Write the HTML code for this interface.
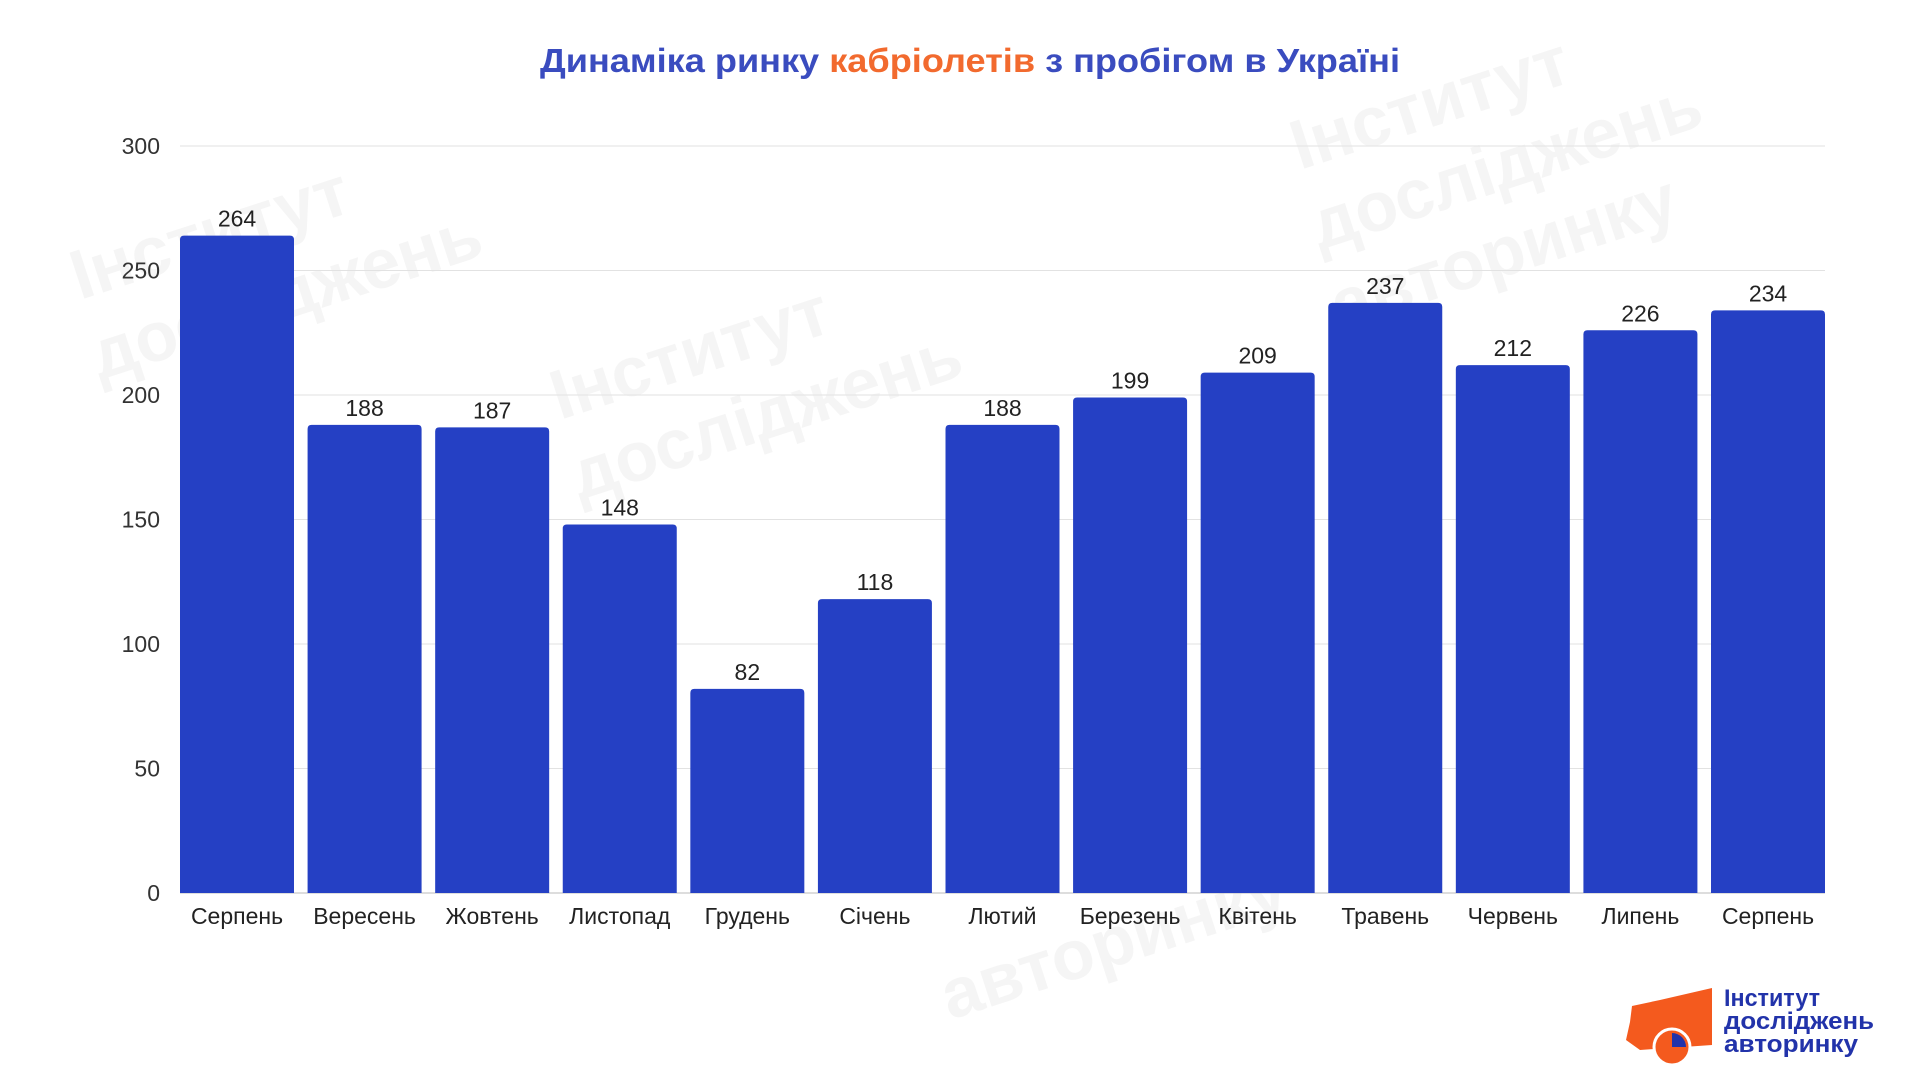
<!DOCTYPE html>
<html><head><meta charset="utf-8">
<style>
html,body{margin:0;padding:0;background:#fff;width:1920px;height:1080px;overflow:hidden}
svg{display:block;font-family:"Liberation Sans","Noto Sans CJK SC",sans-serif}
</style></head>
<body>
<svg id="chart" width="1920" height="1080" viewBox="0 0 1920 1080">
  <g fill="#f5f5f5" font-weight="bold" font-size="70">
    <text x="80" y="300" transform="rotate(-18 80 300)">Інститут</text>
    <text x="100" y="380" transform="rotate(-18 100 380)">досліджень</text>
    <text x="560" y="420" transform="rotate(-18 560 420)">Інститут</text>
    <text x="580" y="500" transform="rotate(-18 580 500)">досліджень</text>
    <text x="1300" y="170" transform="rotate(-18 1300 170)">Інститут</text>
    <text x="1320" y="250" transform="rotate(-18 1320 250)">досліджень</text>
    <text x="1340" y="330" transform="rotate(-18 1340 330)">авторинку</text>
    <text x="950" y="1020" transform="rotate(-18 950 1020)">авторинку</text>
  </g>
  <text x="540" y="72" font-size="33" font-weight="bold" textLength="860" lengthAdjust="spacingAndGlyphs"><tspan fill="#3a4cbf">Динаміка ринку </tspan><tspan fill="#f26a2e">кабріолетів</tspan><tspan fill="#3a4cbf"> з пробігом в Україні</tspan></text>
  <g id="grid"></g>
  <g id="bars"></g>
  <g>
    <path d="M1630 1022 L1632 1006 L1660 1000 L1712 988 L1712 1045 L1640 1050 L1626 1040 Z" fill="#f45a1e"/>
    <circle cx="1672" cy="1047" r="18" fill="#f45a1e" stroke="#fff" stroke-width="3"/>
    <path d="M1672 1047 L1672 1033 A14 14 0 0 1 1686 1047 Z" fill="#2233aa"/>
    <text x="1724" y="1006" font-size="24" font-weight="bold" fill="#2233aa" textLength="96" lengthAdjust="spacingAndGlyphs">Інститут</text>
    <text x="1724" y="1029" font-size="24" font-weight="bold" fill="#2233aa" textLength="150" lengthAdjust="spacingAndGlyphs">досліджень</text>
    <text x="1724" y="1052" font-size="24" font-weight="bold" fill="#2233aa" textLength="134" lengthAdjust="spacingAndGlyphs">авторинку</text>
  </g>
</svg>
<script>
const categories = ["Серпень","Вересень","Жовтень","Листопад","Грудень","Січень","Лютий","Березень","Квітень","Травень","Червень","Липень","Серпень"];
const values = [264,188,187,148,82,118,188,199,209,237,212,226,234];
const yTicks = [0,50,100,150,200,250,300];

const NS = "http://www.w3.org/2000/svg";
const X0 = 180, X1 = 1825, Y0 = 893, Y300 = 146;
const barW = 114;
const step = (X1 - X0 - barW) / (categories.length - 1);
function yScale(v){ return Y0 - (v / 300) * (Y0 - Y300); }
function xBand(i){ return X0 + i * step; }
function mk(tag, attrs, parent){
  const e = document.createElementNS(NS, tag);
  for (const k in attrs) e.setAttribute(k, attrs[k]);
  parent.appendChild(e);
  return e;
}
const grid = document.getElementById('grid');
const bars = document.getElementById('bars');
yTicks.forEach(t => {
  const y = yScale(t);
  const l = mk('line', {x1: X0, x2: X1, y1: y, y2: y, stroke: t === 0 ? '#bbbbbb' : '#e2e2e2', 'stroke-width': 1}, grid);
  
  
  const tx = mk('text', {x: 160, y: y + 8, 'text-anchor': 'end', 'font-size': 23, fill: '#333'}, grid);
  tx.textContent = t;
  
  
});
values.forEach((v, i) => {
  const x = xBand(i), y = yScale(v);
  const r = mk('path', {d: `M${x} ${Y0} V${y + 4} Q${x} ${y} ${x + 4} ${y} H${x + barW - 4} Q${x + barW} ${y} ${x + barW} ${y + 4} V${Y0} Z`, fill: '#2540c4'}, bars);
  
  
  const lbl = mk('text', {x: x + barW / 2, y: y - 9, 'text-anchor': 'middle', 'font-size': 23, fill: '#222'}, bars);
  lbl.textContent = v;
  
  
  const c = mk('text', {x: x + barW / 2, y: 924, 'text-anchor': 'middle', 'font-size': 23, fill: '#222'}, bars);
  c.textContent = categories[i];
  
  
});
</script>
</body></html>
